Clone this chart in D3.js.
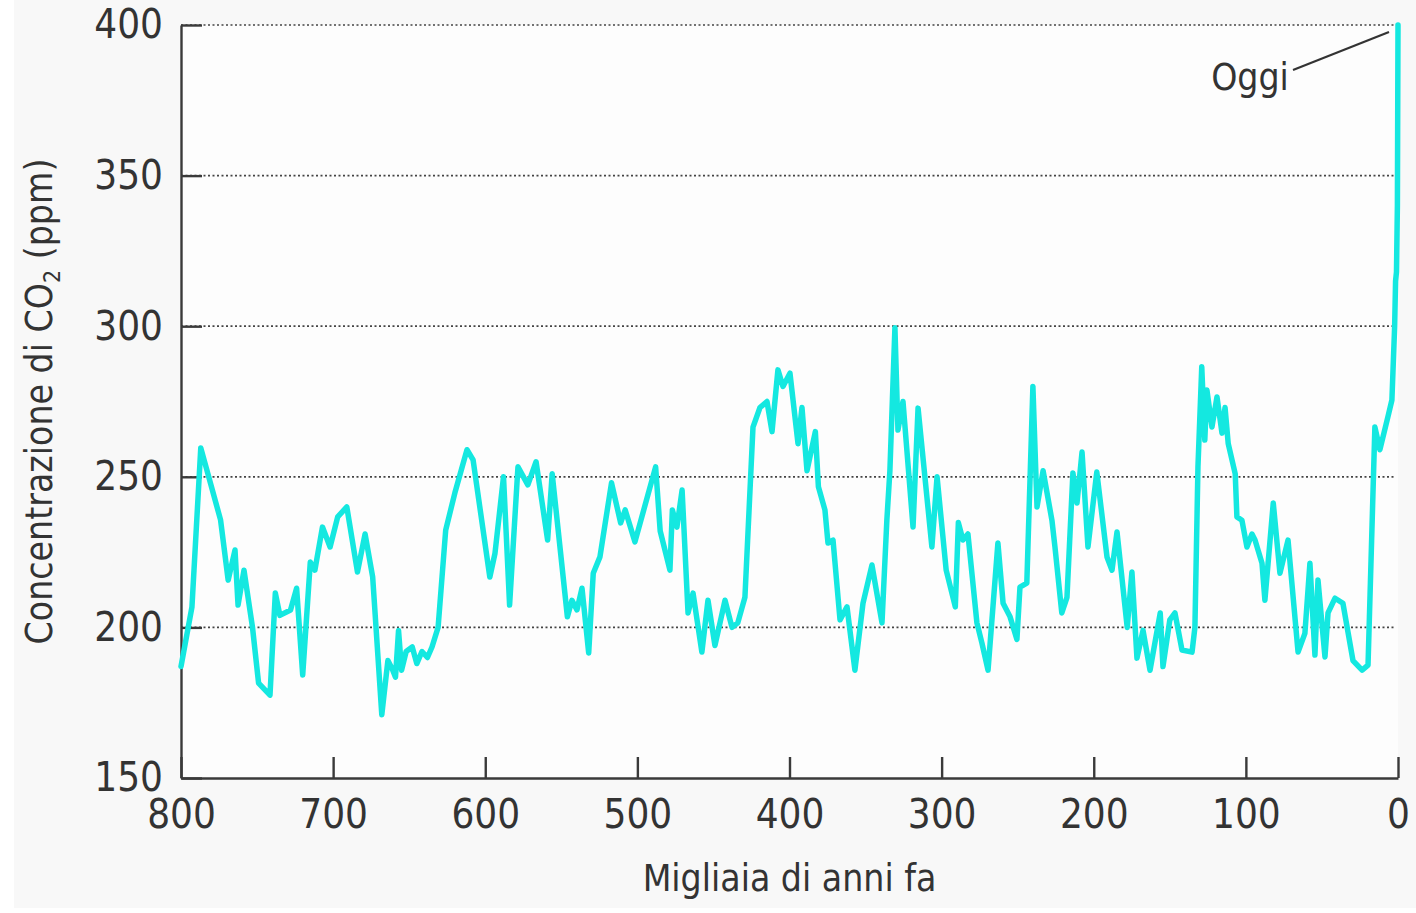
<!DOCTYPE html>
<html>
<head>
<meta charset="utf-8">
<script src="https://cdn.jsdelivr.net/npm/d3@7"></script>
<style>
  html, body { margin: 0; padding: 0; background: #ffffff; }
  svg { display: block; }
  text { font-family: "Liberation Sans Narrow", "DejaVu Sans Condensed", "Open Sans", sans-serif; fill: #333; }
</style>
</head>
<body>
<svg id="chart" width="1416" height="913"></svg>
<script>
// Thousands of years before present (x) and CO2 concentration in ppm (y)
const kyaBP = [
  800, 792.8, 787, 774, 769, 764.5, 762.5, 758.6, 753, 749, 741.5, 738, 735, 728, 724, 720,
  715, 712, 707, 702, 697, 691, 684, 679, 674, 668, 664, 661, 659, 657, 655, 652, 648, 645, 641.6, 638, 635, 631,
  626, 620, 612, 608, 597, 593.6, 588, 584, 578.5, 572, 566.6, 559, 556, 546, 543, 539.7,
  536.4, 532, 529, 524.6, 517, 511, 508, 501.6, 488, 485, 478.6, 477, 474, 470.6, 466.7,
  463.4, 457.6, 453.6, 449, 442.4, 437.8, 434, 429.3, 424, 419.4, 414.8, 411.5, 407.6, 404.3,
  399.7, 394.4, 391.8, 388.5, 383, 381, 376.7, 374.7, 371.4, 366.8, 362.2, 357, 351.7, 345.8,
  339.2, 336, 334, 330.7, 328.7, 325.4, 318.8, 315.5, 306.4, 303, 297, 291, 289, 286, 282.7,
  276.8, 273.5, 269.5, 263, 259.6, 255, 250.5, 248.5, 244, 240, 237.3, 233.3, 227.5, 225.5,
  221, 217.6, 213.7, 211, 207.7, 203.8, 198, 191.3, 188, 184.7, 178, 174.9, 171.6, 167.6,
  163, 156.3, 154.5, 150, 146.6, 142, 135.4, 133.5, 131.5, 129, 127, 125.6, 122.3, 119,
  115.7, 113.7, 111.6, 107, 105.9, 102.6, 99.3, 96, 94, 89.4, 87.5, 82, 77.6, 72.3, 65.7,
  61.2, 57.9, 54.6, 52.6, 48, 46, 41.4, 36.2, 29.6, 23.6, 19.7, 15.2, 11.9, 6.6, 4, 2.2,
  1.6, 1.0, 0.4, 0
];
const co2ppm = [
  187, 206.8, 259.6, 235.7, 215.7, 225.7, 207.4, 219, 200, 181.5, 177.5, 211.4, 204, 205.8, 213, 184.2,
  221.7, 219, 233.3, 226.7, 236.7, 240, 218.4, 231, 216.7, 171, 189, 186, 183.5, 199, 185.8, 192, 193.5, 188, 192, 190, 193.5, 200,
  232.3, 244.6, 259, 255.6, 216.7, 224.6, 250, 207.4, 253.3, 247.3, 255, 229, 251, 203.5, 209, 205.8,
  213, 191.5, 218, 223.4, 248, 234.7, 239, 228.4, 253.3, 232, 219, 239, 233.3, 245.6, 204.8,
  211.4, 191.8, 209, 194, 209, 200, 201.5, 210, 266.5, 273, 275, 265, 285.5, 280,
  284.4, 261, 273, 252, 265, 246.7, 239, 228, 229, 202.5, 206.8, 185.8, 208, 220.7,
  201.5, 235.6, 252, 299.5, 265.5, 275, 233.3, 272.8, 226.7, 250, 219, 206.8, 234.8, 229, 231,
  201.5, 194.8, 185.8, 228, 208, 203.5, 196, 213.4, 214.7, 280, 240, 252, 235.6, 226.7,
  204.8, 210, 251.3, 241.3, 258.2, 226.7, 251.6, 223.4, 219, 231.7, 200, 218.4, 189.8, 199,
  185.8, 204.8, 187, 202.5, 204.8, 192.5, 191.8, 200, 253.3, 286.5, 262.2, 278.8, 266.5, 276.5,
  264.5, 273, 261, 251, 236.7, 235.6, 226.7, 231, 229, 221.3, 209, 241.3, 218, 229, 191.8,
  198, 221.3, 190.8, 215.7, 190.2, 204.8, 209.7, 208, 189, 185.8, 187.5, 266.5, 259, 270, 275.5, 300,
  315, 318, 340, 400
];
const xTickValues = [800, 700, 600, 500, 400, 300, 200, 100, 0];
const yTickValues = [150, 200, 250, 300, 350, 400];
const xTitle = "Migliaia di anni fa";
const yTitleMain = "Concentrazione di CO";
const yTitleSub = "2";
const yTitleEnd = " (ppm)";
const annotationText = "Oggi";

const svg = d3.select("#chart");
const W = 1416, H = 913;
const plot = { left: 181, right: 1398, top: 25, bottom: 778 };

// Light panel behind the whole figure
svg.append("rect").attr("x", 14).attr("y", 0).attr("width", W - 14).attr("height", 908)
  .attr("fill", "#f8f8f8");
svg.append("rect").attr("x", plot.left).attr("y", plot.top)
  .attr("width", plot.right - plot.left).attr("height", plot.bottom - plot.top)
  .attr("fill", "#fdfdfd");

const x = d3.scaleLinear().domain([800, 0]).range([plot.left, plot.right]);
const y = d3.scaleLinear().domain([150, 400]).range([plot.bottom, plot.top]);

// Dotted horizontal gridlines
svg.append("g").selectAll("line")
  .data(yTickValues.filter(v => v > 150))
  .join("line")
  .attr("x1", plot.left).attr("x2", plot.right - 3)
  .attr("y1", d => y(d)).attr("y2", d => y(d))
  .attr("stroke", "#444").attr("stroke-width", 1.7)
  .attr("stroke-dasharray", "2,2.5");

const tickFont = '"Liberation Sans Narrow", "DejaVu Sans Condensed", sans-serif';

// Y axis with inward ticks
const yAxis = svg.append("g").attr("transform", `translate(${plot.left},0)`)
  .call(d3.axisLeft(y).tickValues(yTickValues).tickSizeInner(-21).tickSizeOuter(0).tickPadding(18));
yAxis.select(".domain").attr("stroke", "#3a3a3a").attr("stroke-width", 2.4);
yAxis.selectAll(".tick line").attr("stroke", "#3a3a3a").attr("stroke-width", 2.4);
yAxis.selectAll(".tick text").attr("x", -18).attr("font-size", 40).attr("fill", "#333")
  .style("font-family", tickFont);

// X axis with inward ticks
const xAxis = svg.append("g").attr("transform", `translate(0,${plot.bottom})`)
  .call(d3.axisBottom(x).tickValues(xTickValues).tickSizeInner(-21).tickSizeOuter(0).tickPadding(0));
xAxis.select(".domain").attr("stroke", "#3a3a3a").attr("stroke-width", 2.4);
xAxis.selectAll(".tick line").attr("stroke", "#3a3a3a").attr("stroke-width", 2.4);
xAxis.selectAll(".tick text").attr("y", 22).attr("dy", "0.71em").attr("font-size", 40).attr("fill", "#333")
  .style("font-family", tickFont);

// CO2 record
const series = kyaBP.map((k, i) => ({ k, v: co2ppm[i] }));
const line = d3.line().x(d => x(d.k)).y(d => y(d.v));
svg.append("path").datum(series)
  .attr("d", line)
  .attr("fill", "none")
  .attr("stroke", "#14e8e0")
  .attr("stroke-width", 5.5)
  .attr("stroke-linejoin", "round")
  .attr("stroke-linecap", "round");

// "Oggi" annotation with leader line to the latest value
const lastK = kyaBP[kyaBP.length - 1], lastV = co2ppm[co2ppm.length - 1];
svg.append("line")
  .attr("x1", 1293).attr("y1", 70)
  .attr("x2", x(lastK) - 9).attr("y2", y(lastV) + 7)
  .attr("stroke", "#333").attr("stroke-width", 2.2);
svg.append("text")
  .attr("x", 1250).attr("y", 90)
  .attr("text-anchor", "middle").attr("font-size", 37)
  .text(annotationText);

// Axis titles
svg.append("text")
  .attr("x", (plot.left + plot.right) / 2).attr("y", 891)
  .attr("text-anchor", "middle").attr("font-size", 37)
  .text(xTitle);

const yt = svg.append("text")
  .attr("transform", `translate(52,${(plot.top + plot.bottom) / 2}) rotate(-90)`)
  .attr("text-anchor", "middle").attr("font-size", 37);
yt.append("tspan").text(yTitleMain);
yt.append("tspan").attr("font-size", 23).attr("dy", 8).text(yTitleSub);
yt.append("tspan").attr("dy", -8).text(yTitleEnd);
</script>
</body>
</html>
